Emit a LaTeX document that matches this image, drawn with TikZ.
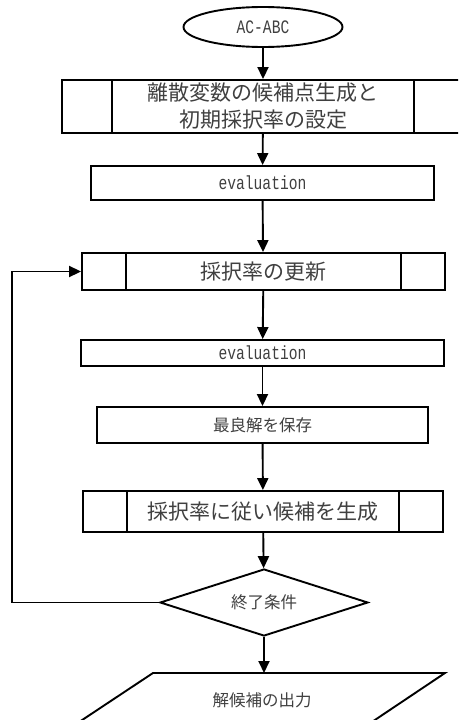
\documentclass[tikz,border=0pt]{standalone}
\usepackage{fontspec}
\usetikzlibrary{arrows.meta,shapes.geometric}
\newfontfamily\cjk{Noto Sans CJK JP}
\newfontfamily\monof[FakeStretch=0.77]{Liberation Mono}
\definecolor{txt}{HTML}{404040}
\tikzset{
  box/.style={draw, line width=1.9pt, rectangle, inner sep=0pt, text=txt, align=center},
  arr/.style={line width=1.9pt, -{Triangle[length=12pt,width=11pt]}},
  ln/.style={line width=1.9pt},
  big/.style={font=\cjk\fontsize{21}{27}\selectfont},
  small/.style={font=\cjk\fontsize{16.5}{20}\selectfont},
  mono/.style={font=\monof\fontsize{19}{22}\selectfont},
}
\begin{document}
\begin{tikzpicture}[x=1pt,y=-1pt]
\clip (0,0) rectangle (458,720);
\useasboundingbox (0,0) rectangle (458,720);
\fill[white] (0,0) rectangle (458,720);

\node[box, ellipse, minimum width=159pt, minimum height=40pt, mono] (start) at (263,27) {AC-ABC};
\node[box, minimum width=402pt, minimum height=53pt, big] (b1) at (263,106.5) {離散変数の候補点生成と\\初期採択率の設定};
\draw[ln] ([xshift=51pt]b1.north west) -- ([xshift=51pt]b1.south west);
\draw[ln] ([xshift=-51pt]b1.north east) -- ([xshift=-51pt]b1.south east);
\node[box, minimum width=343pt, minimum height=34pt, mono] (e1) at (262.5,183) {evaluation};
\node[box, minimum width=363pt, minimum height=37pt, big] (b2) at (263.5,271.5) {採択率の更新};
\draw[ln] ([xshift=45pt]b2.north west) -- ([xshift=45pt]b2.south west);
\draw[ln] ([xshift=-45pt]b2.north east) -- ([xshift=-45pt]b2.south east);
\node[box, minimum width=363pt, minimum height=26pt, mono] (e2) at (262.5,353) {evaluation};
\node[box, minimum width=331pt, minimum height=36pt, small] (s) at (262.5,425) {最良解を保存};
\node[box, minimum width=360pt, minimum height=41pt, big] (b3) at (263,511.5) {採択率に従い候補を生成};
\draw[ln] ([xshift=45pt]b3.north west) -- ([xshift=45pt]b3.south west);
\draw[ln] ([xshift=-45pt]b3.north east) -- ([xshift=-45pt]b3.south east);
\node[box, diamond, aspect=3.1, minimum width=208pt, minimum height=67pt, small] (d) at (264,602.5) {終了条件};

\coordinate (ptop) at (264,673);
\draw[ln, fill=white] (153,673) -- (445,673) -- (345,740) -- (52,740) -- cycle;
\node[small, text=txt, inner sep=0pt] (out) at (262,700) {解候補の出力};

\draw[arr] (start) -- (b1);
\draw[arr] (b1) -- (e1);
\draw[arr] (e1) -- (b1 |- b2.north);
\draw[arr] (b2) -- (e2);
\draw[arr] (e2) -- (s);
\draw[arr] (s) -- (b3);
\draw[arr] (b3) -- (d);
\draw[arr] (d) -- (ptop);
\coordinate (lx) at (12,602.5);
\draw[arr] (d.west) -- (lx) |- (b2.west);
\end{tikzpicture}
\end{document}
